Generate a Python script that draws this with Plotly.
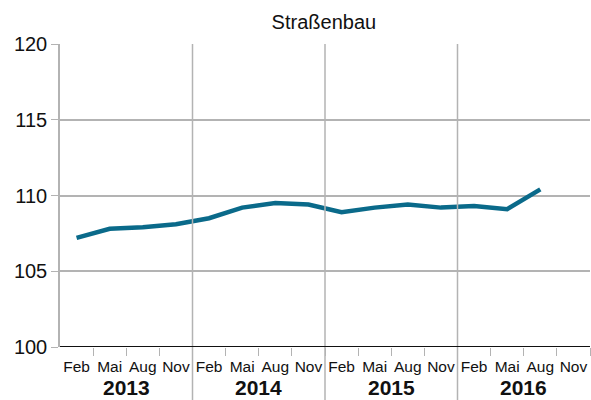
import plotly.graph_objects as go

# Quartale 2013-2016
monate = ["Feb", "Mai", "Aug", "Nov"] * 4
jahre = ["2013", "2014", "2015", "2016"]
werte = [107.2, 107.8, 107.9, 108.1,
         108.5, 109.2, 109.5, 109.4,
         108.9, 109.2, 109.4, 109.2,
         109.3, 109.1, 110.4, None]

pos = list(range(len(monate)))
grau = "#b3b3b3"
schwarz = "#111111"
schrift = "Liberation Sans, Arial, sans-serif"

fig = go.Figure()
fig.add_trace(go.Scatter(x=pos, y=werte, mode="lines",
                         line=dict(color="#0a6a8a", width=4.5),
                         connectgaps=False, showlegend=False))

fig.update_layout(
    width=591, height=400,
    margin=dict(l=60, r=1, t=44, b=53, autoexpand=False),
    plot_bgcolor="white", paper_bgcolor="white",
    font=dict(family=schrift, color=schwarz),
    title=dict(text="Straßenbau", x=0.548, xanchor="center", y=0.945,
               yanchor="middle", font=dict(size=20, color=schwarz)),
)

fig.update_xaxes(
    range=[-0.5, len(monate) - 0.5], automargin=False,
    tickvals=pos, ticktext=monate, ticks="", showgrid=False,
    tickfont=dict(size=15.5, color=schwarz), ticklabelstandoff=8,
    zeroline=False, showline=False,
    minor=dict(tickvals=[i + 0.5 for i in pos], ticks="outside",
               ticklen=8, tickcolor=grau, showgrid=False),
)
fig.update_yaxes(
    range=[100, 120], tickvals=[100, 105, 110, 115, 120], automargin=False,
    showgrid=True, gridcolor=grau, gridwidth=1.5,
    ticks="outside", ticklen=7, tickcolor=grau,
    showline=True, linecolor=grau, linewidth=1.5,
    zeroline=False, tickfont=dict(size=20, color=schwarz),
)

# Jahrestrenner und Grundlinie
for k in range(1, len(jahre)):
    fig.add_shape(type="line", xref="x", yref="paper",
                  x0=4 * k - 0.5, x1=4 * k - 0.5, y0=-0.2, y1=1,
                  line=dict(color=grau, width=1.5))
fig.add_shape(type="line", xref="paper", yref="y", x0=0, x1=1, y0=100, y1=100,
              line=dict(color=schwarz, width=2))

for k, j in enumerate(jahre):
    fig.add_annotation(x=4 * k + 1.5, y=-0.135, xref="x", yref="paper",
                       text="<b>" + j + "</b>", showarrow=False,
                       yanchor="middle", font=dict(size=21, color=schwarz))

# Browser-Rand der Seite entfernen
fig.write_html("out.html", config={"displayModeBar": False},
               post_script="document.body.style.margin='0';"
                           "document.body.style.overflow='hidden';")
